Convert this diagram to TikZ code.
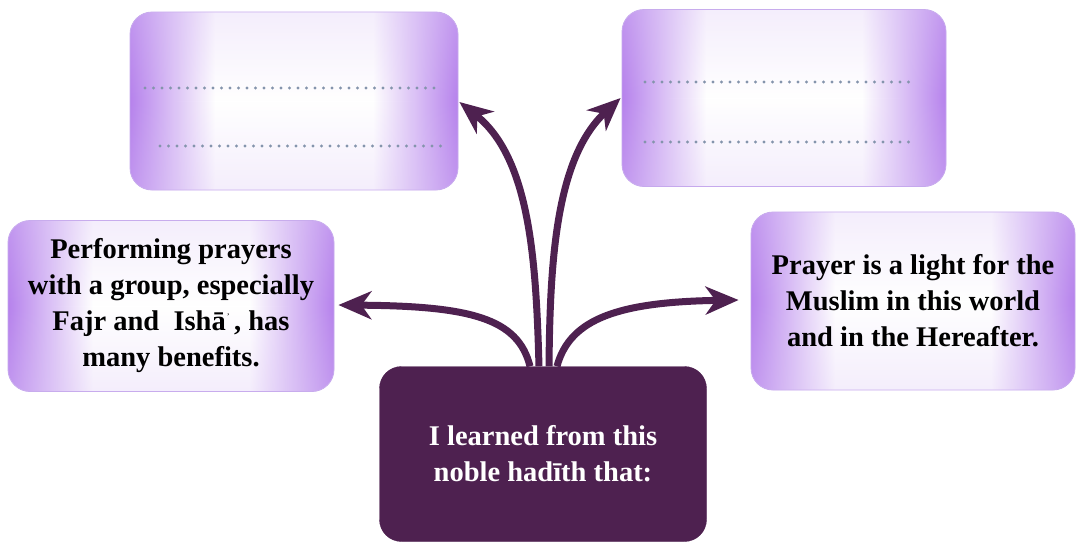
\documentclass[tikz,border=0pt]{standalone}
\usepackage{fontspec}
\setmainfont{Liberation Serif}
\usetikzlibrary{arrows.meta,fadings}

\definecolor{plum}{RGB}{78,33,80}
\definecolor{lavedge}{RGB}{182,130,236}
\definecolor{lavsoft}{RGB}{220,198,246}
\definecolor{lavline}{RGB}{196,166,236}
\definecolor{dotgray}{RGB}{132,148,172}

% purple at the left and right edges, white across the middle
\pgfdeclarehorizontalshading{sidefade}{100bp}{%
  color(0bp)=(lavedge); color(25bp)=(lavedge);
  color(38bp)=(white); color(62bp)=(white);
  color(75bp)=(lavedge); color(100bp)=(lavedge)}
% faint tint along the top and bottom edges
\tikzfading[name=topbottom, top color=transparent!70,
  bottom color=transparent!70, middle color=transparent!100]

\tikzset{
  lightbox/.style={rounded corners=22pt, shading=sidefade, draw=lavline,
    line width=0.8pt, postaction={fill=lavsoft, path fading=topbottom},
    align=center, font=\bfseries\fontsize{28.5}{36}\selectfont},
  darkbox/.style={rounded corners=22pt, fill=plum, draw=plum,
    text=white, align=center,
    font=\bfseries\fontsize{28.5}{36}\selectfont},
  branch/.style={draw=plum, line width=7pt,
    -{Stealth[length=33pt,width=28pt,inset=10pt]}},
  writeline/.style={dotgray, line width=3.4pt, line cap=round,
    dash pattern=on 0pt off 8.5pt}
}

\begin{document}
\begin{tikzpicture}[x=1pt,y=-1pt]
\useasboundingbox (0,0) rectangle (1077,544);

% answer boxes
\node[lightbox, minimum width=328, minimum height=178] (tl) at (294,101) {};
\node[lightbox, minimum width=324, minimum height=177] (tr) at (784,98) {};
\node[lightbox, minimum width=326, minimum height=171] (l) at (171,306)
  {Performing prayers\\with a group, especially\\Fajr and\ \ Ishā\raisebox{0.45em}{\scriptsize\,’}\,, has\\many benefits.};
\node[lightbox, minimum width=324, minimum height=178] (r) at (913,301)
  {Prayer is a light for the\\Muslim in this world\\and in the Hereafter.};

% writing lines in the empty boxes
\draw[writeline] (145,88) -- (442,88);
\draw[writeline] (160,146) -- (442,146);
\draw[writeline] (645,82) -- (912,82);
\draw[writeline] (645,142) -- (912,142);

% source box
\node[darkbox, minimum width=327, minimum height=175] (c) at (543,454)
  {I learned from this\\noble hadīth that:};

% branches
\draw[branch] ([xshift=-13pt]c.north) .. controls (518,318) and (470,306) .. ([xshift=4pt,yshift=1pt]l.east);
\draw[branch] ([xshift=14pt]c.north) .. controls (570,318) and (620,302) .. ([xshift=-12pt,yshift=1pt]r.west);
\draw[branch] ([xshift=-4pt]c.north) .. controls (536,260) and (530,158) .. ([xshift=1pt,yshift=-1pt]tl.east);
\draw[branch] ([xshift=6pt]c.north) .. controls (550,260) and (556,158) .. ([xshift=-1pt,yshift=0pt]tr.west);
\end{tikzpicture}
\end{document}
